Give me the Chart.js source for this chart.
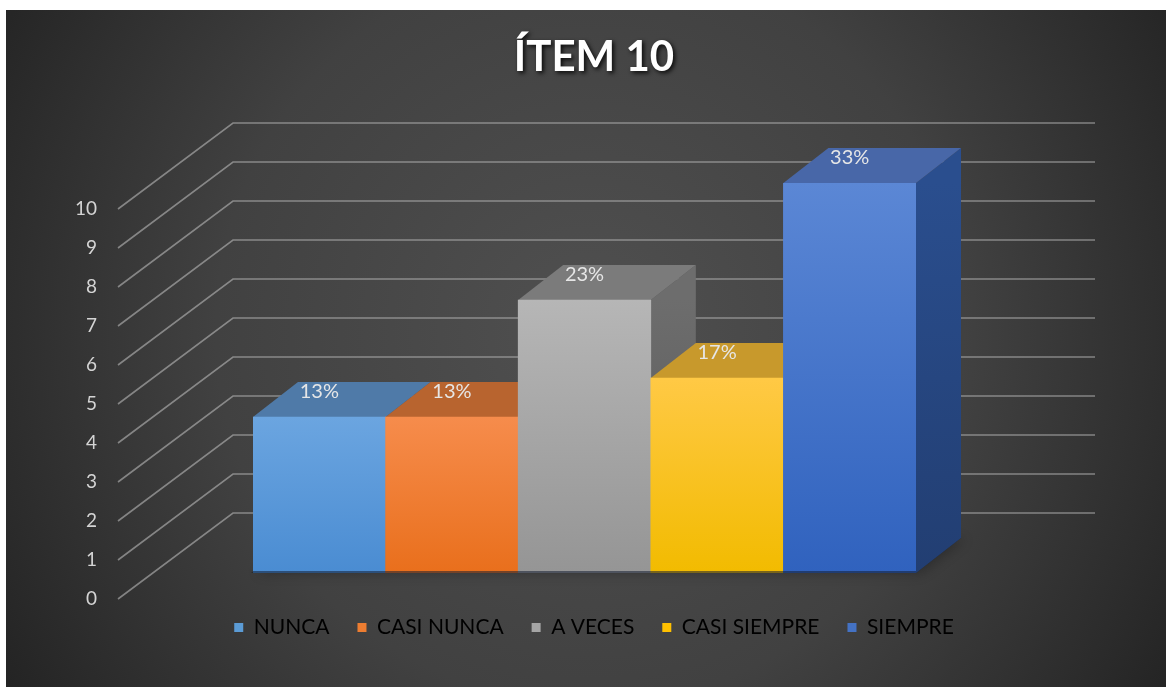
<!DOCTYPE html>
<html>
<head>
<meta charset="utf-8">
<script src="https://cdn.jsdelivr.net/npm/chart.js@4.4.0/dist/chart.umd.min.js"></script>
<style>
html, body { margin: 0; padding: 0; background: #fff; }
#wrap { width: 1166px; height: 687px; }
</style>
</head>
<body>
<div id="wrap"><canvas id="chart" width="1166" height="687"></canvas></div>
<script>
// values
const categories = ['NUNCA', 'CASI NUNCA', 'A VECES', 'CASI SIEMPRE', 'SIEMPRE'];
const counts = [4, 4, 7, 5, 10];
const percentLabels = ['13%', '13%', '23%', '17%', '33%'];
const yTicks = [0, 1, 2, 3, 4, 5, 6, 7, 8, 9, 10];

// colours
const legendColors = ['#5b9bd5', '#ed7d31', '#a5a5a5', '#ffc000', '#4472c4'];
const frontTop = ['#6ba5e0', '#f68c4c', '#b6b6b6', '#ffc945', '#5b87d5'];
const frontBottom = ['#4a8cd2', '#e96f1c', '#959595', '#f2bb00', '#3062be'];
const topColors = ['#4f7aa8', '#b8642f', '#7b7b7b', '#c8992c', '#4867a8'];
const sideColors = ['#3f6a98', '#a4551f', '#6d6d6d', '#b58910', '#2a4e8e'];

// 3d offsets
var DX = 45, DY = 35;
var WALL_DY = 60, FLOOR_DY = 26;

var ctx = document.getElementById('chart').getContext('2d');

var backgroundPlugin = {
    id: 'background',
    beforeDraw: function(chart) {
        var c = chart.ctx;
        c.save();
        c.fillStyle = '#ffffff';
        c.fillRect(0, 0, chart.width, chart.height);
        var g = c.createRadialGradient(590, 330, 0, 590, 330, 680);
        g.addColorStop(0, '#505050');
        g.addColorStop(0.55, '#414141');
        g.addColorStop(1, '#242424');
        c.fillStyle = g;
        c.fillRect(6, 10, chart.width - 6, chart.height - 10);
        c.restore();

        // drop shadow for the title text
        var t = chart.titleBlock;
        if (t && !t._shadowed) {
            var orig = t.draw;
            t.draw = function() {
                this.ctx.save();
                this.ctx.shadowColor = 'rgba(0,0,0,0.85)';
                this.ctx.shadowBlur = 4;
                this.ctx.shadowOffsetX = 2;
                this.ctx.shadowOffsetY = 2;
                orig.apply(this, arguments);
                this.ctx.restore();
            };
            t._shadowed = true;
        }
    }
};

var box3dPlugin = {
    id: 'box3d',
    beforeDatasetsDraw: function(chart) {
        var c = chart.ctx;
        var area = chart.chartArea;
        var yScale = chart.scales.y;
        c.save();

        // slanted side wall lines + back wall lines
        c.strokeStyle = 'rgba(185,185,185,0.6)';
        c.lineWidth = 1.6;
        yTicks.forEach(function(v) {
            var yp = yScale.getPixelForValue(v);
            c.beginPath();
            c.moveTo(area.left - 135, yp + FLOOR_DY);
            c.lineTo(area.left - 20, yp - WALL_DY);
            c.lineTo(area.right + 179, yp - WALL_DY);
            c.stroke();
        });

        var bars = chart.getDatasetMeta(0).data;
        var first = bars[0], last = bars[bars.length - 1];
        var x0 = first.x - first.width / 2;
        var x1 = last.x + last.width / 2;
        var base = first.base;

        // soft floor shadow
        c.save();
        c.shadowColor = 'rgba(0,0,0,0.8)';
        c.shadowBlur = 12;
        c.shadowOffsetX = 5;
        c.shadowOffsetY = 1;
        c.fillStyle = 'rgba(0,0,0,0.3)';
        c.beginPath();
        c.moveTo(x0 - 2, base);
        c.lineTo(x1, base);
        c.lineTo(x1 + DX, base - DY);
        c.lineTo(x0 + DX, base - DY);
        c.closePath();
        c.fill();
        c.restore();

        // side and top faces, left to right
        bars.forEach(function(el, i) {
            var l = el.x - el.width / 2;
            var r = el.x + el.width / 2;
            var top = el.y, b = el.base;

            var sg = c.createLinearGradient(0, top, 0, b);
            sg.addColorStop(0, sideColors[i]);
            sg.addColorStop(1, shade(sideColors[i], -0.2));
            c.fillStyle = sg;
            c.beginPath();
            c.moveTo(r, top);
            c.lineTo(r + DX, top - DY);
            c.lineTo(r + DX, b - DY);
            c.lineTo(r, b);
            c.closePath();
            c.fill();

            c.fillStyle = topColors[i];
            c.beginPath();
            c.moveTo(l, top);
            c.lineTo(r, top);
            c.lineTo(r + DX, top - DY);
            c.lineTo(l + DX, top - DY);
            c.closePath();
            c.fill();
        });
        c.restore();
    },
    afterDatasetsDraw: function(chart) {
        var c = chart.ctx;
        var bars = chart.getDatasetMeta(0).data;
        c.save();
        // dark edge along the bar bottoms
        var first = bars[0], last = bars[bars.length - 1];
        c.strokeStyle = 'rgba(20,30,50,0.55)';
        c.lineWidth = 2;
        c.beginPath();
        c.moveTo(first.x - first.width / 2, first.base - 1);
        c.lineTo(last.x + last.width / 2, last.base - 1);
        c.stroke();

        c.fillStyle = '#e6e6e6';
        c.font = '20px Lato';
        c.textAlign = 'center';
        c.textBaseline = 'middle';
        bars.forEach(function(el, i) {
            c.fillText(percentLabels[i], el.x, el.y - 25);
        });
        c.restore();
    }
};

function shade(hex, amt) {
    var n = parseInt(hex.slice(1), 16);
    var r = (n >> 16) & 255, g = (n >> 8) & 255, b = n & 255;
    r = Math.round(r * (1 + amt)); g = Math.round(g * (1 + amt)); b = Math.round(b * (1 + amt));
    return 'rgb(' + r + ',' + g + ',' + b + ')';
}

var chart = new Chart(ctx, {
    type: 'bar',
    data: {
        labels: categories,
        datasets: [{
            label: 'ÍTEM 10',
            data: counts,
            backgroundColor: function(c) {
                var i = c.dataIndex;
                var ys = c.chart.scales.y;
                if (!ys || i === undefined) return legendColors[i] || legendColors[0];
                var g = c.chart.ctx.createLinearGradient(0, ys.getPixelForValue(counts[i]), 0, ys.getPixelForValue(0));
                g.addColorStop(0, frontTop[i]);
                g.addColorStop(1, frontBottom[i]);
                return g;
            },
            borderWidth: 0,
            categoryPercentage: 1,
            barPercentage: 1
        }]
    },
    options: {
        responsive: false,
        animation: false,
        layout: { padding: { top: 10, bottom: 39, left: 22, right: 0 } },
        plugins: {
            title: {
                display: true,
                text: 'ÍTEM 10',
                color: '#ffffff',
                font: { family: 'Lato', size: 42, weight: 'bold' },
                padding: { top: 22, bottom: 100.6 }
            },
            legend: {
                position: 'bottom',
                labels: {
                    color: '#d9d9d9',
                    font: { family: 'Lato', size: 21 },
                    boxWidth: 9,
                    boxHeight: 9,
                    padding: 28,
                    generateLabels: function() {
                        return categories.map(function(name, i) {
                            return { text: name, fillStyle: legendColors[i], strokeStyle: legendColors[i], lineWidth: 0, hidden: false, index: i };
                        });
                    }
                },
                onClick: null
            },
            tooltip: { enabled: false }
        },
        scales: {
            x: {
                display: true,
                grid: { display: false, drawTicks: false },
                border: { display: false },
                ticks: { display: false },
                afterFit: function(s) { s.height = 16; }
            },
            y: {
                min: 0,
                max: 10,
                grid: { display: false, drawTicks: false },
                border: { display: false },
                ticks: {
                    stepSize: 1,
                    color: '#d4d4d4',
                    font: { family: 'Lato', size: 19 },
                    padding: 156,
                    labelOffset: FLOOR_DY
                },
                afterFit: function(s) {
                    s.width = 231;
                    s.paddingTop = 0;
                    s.paddingBottom = 0;
                }
            },
            y2: {
                position: 'right',
                display: true,
                grid: { display: false, drawTicks: false },
                border: { display: false },
                ticks: { display: false },
                afterFit: function(s) { s.width = 250; }
            }
        }
    },
    plugins: [backgroundPlugin, box3dPlugin]
});
</script>
</body>
</html>
